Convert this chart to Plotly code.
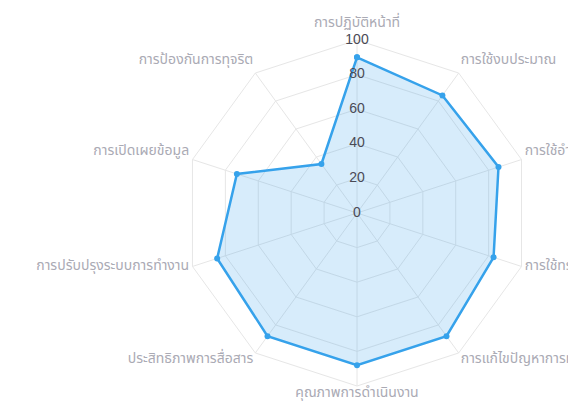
import plotly.graph_objects as go

categories = [
    "การปฏิบัติหน้าที่",
    "การใช้งบประมาณ",
    "การใช้อำนาจ",
    "การใช้ทรัพย์สินของราชการ",
    "การแก้ไขปัญหาการทุจริต",
    "คุณภาพการดำเนินงาน",
    "ประสิทธิภาพการสื่อสาร",
    "การปรับปรุงระบบการทำงาน",
    "การเปิดเผยข้อมูล",
    "การป้องกันการทุจริต",
]
scores = [90, 84, 86, 83, 88, 88, 88, 85, 73, 35]
radial_ticks = [0, 20, 40, 60, 80, 100]
radial_tick_labels = ["0", "20", "40", "60", "80", "100"]

blue = "rgb(54,162,235)"
grid = "#e6e6e6"

fig = go.Figure()
# main chart (grid + data)
fig.add_trace(go.Scatterpolar(
    r=scores + [scores[0]],
    theta=categories + [categories[0]],
    mode="lines+markers",
    fill="toself",
    fillcolor="rgba(54,162,235,0.2)",
    line=dict(color=blue, width=2.5),
    marker=dict(color=blue, size=6),
    hoverinfo="skip",
    showlegend=False,
    subplot="polar",
))
# radial tick labels, centred on the vertical spoke
fig.add_trace(go.Scatterpolar(
    r=radial_ticks,
    theta=[0] * len(radial_ticks),
    thetaunit="degrees",
    mode="text",
    text=radial_tick_labels,
    textposition="middle center",
    textfont=dict(size=14, color="#4a4a55", family="Liberation Sans, Arial, sans-serif"),
    cliponaxis=False,
    hoverinfo="skip",
    showlegend=False,
    subplot="polar2",
))
# point labels layer (invisible marks, only the angular labels are shown)
fig.add_trace(go.Scatterpolar(
    r=scores,
    theta=categories,
    mode="markers",
    marker=dict(opacity=0, size=1),
    hoverinfo="skip",
    showlegend=False,
    subplot="polar3",
))

fig.update_layout(
    width=576,
    height=403,
    margin=dict(l=0, r=0, t=0, b=0),
    paper_bgcolor="white",
    plot_bgcolor="white",
    font=dict(family="Noto Sans, Noto Sans Thai, sans-serif"),
    polar=dict(
        domain=dict(x=[176 / 576, 522 / 576], y=[25 / 403, 371 / 403]),
        bgcolor="white",
        gridshape="linear",
        radialaxis=dict(
            range=[0, 100],
            tickvals=radial_ticks,
            showticklabels=False,
            ticks="",
            showline=False,
            gridcolor=grid,
            gridwidth=1,
        ),
        angularaxis=dict(
            rotation=90,
            direction="clockwise",
            showticklabels=False,
            ticks="",
            showline=True,
            linecolor=grid,
            gridcolor=grid,
        ),
    ),
    polar2=dict(
        domain=dict(x=[176 / 576, 522 / 576], y=[25 / 403, 371 / 403]),
        bgcolor="rgba(0,0,0,0)",
        gridshape="linear",
        radialaxis=dict(range=[0, 100], visible=False, showgrid=False),
        angularaxis=dict(rotation=90, direction="clockwise", visible=False,
                         showgrid=False, showline=False),
    ),
    polar3=dict(
        domain=dict(x=[173 / 576, 525 / 576], y=[29 / 403, 381 / 403]),
        bgcolor="rgba(0,0,0,0)",
        gridshape="linear",
        radialaxis=dict(range=[0, 100], visible=False, showgrid=False),
        angularaxis=dict(
            rotation=90,
            direction="clockwise",
            tickfont=dict(size=14, color="#aaaab4"),
            ticks="",
            showgrid=False,
            showline=False,
        ),
    ),
)

fig.write_html("out.html")
